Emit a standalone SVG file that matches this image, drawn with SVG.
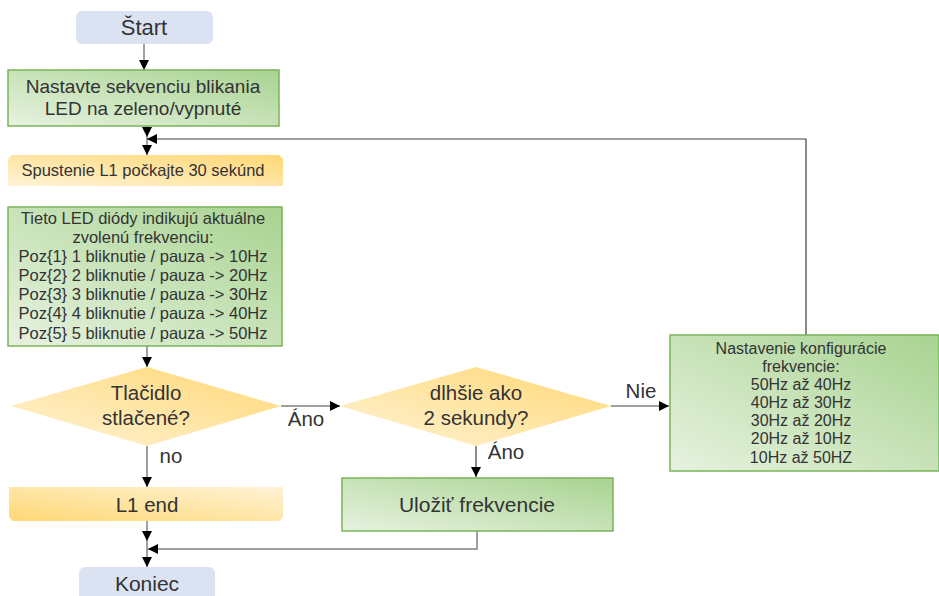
<svg xmlns="http://www.w3.org/2000/svg" width="939" height="596" viewBox="0 0 939 596">
<defs>
<linearGradient id="gGreen" x1="0" y1="1" x2="1" y2="0">
<stop offset="0" stop-color="#e7f2e0"/>
<stop offset="1" stop-color="#a8d390"/>
</linearGradient>
<linearGradient id="gOrangeTR" x1="0" y1="1" x2="1" y2="0">
<stop offset="0" stop-color="#fff3d6"/>
<stop offset="1" stop-color="#ffd875"/>
</linearGradient>
<linearGradient id="gOrangeBL" x1="0" y1="1" x2="1" y2="0">
<stop offset="0" stop-color="#ffd875"/>
<stop offset="1" stop-color="#fff3d6"/>
</linearGradient>
<marker id="arr" markerUnits="userSpaceOnUse" markerWidth="10" markerHeight="10" viewBox="0 0 10 10" refX="10" refY="5" orient="auto">
<path d="M0,0 L10,5 L0,10 z" fill="#000"/>
</marker>
</defs>
<style>
text{font-family:"Liberation Sans","DejaVu Sans",sans-serif;fill:#333;text-anchor:middle}
.term{fill:#dbe3f3}
.box{fill:url(#gGreen);stroke:#79b45a;stroke-width:1.5}
.line{fill:none;stroke:#808080;stroke-width:1.5}
.dark{fill:none;stroke:#404040;stroke-width:1.2}
.t22{font-size:22px}
.t21{font-size:21px}
.t20{font-size:20.5px}
.lbl{font-size:20.5px}
.t19{font-size:19px}
.t16{font-size:16.5px}
.t14{font-size:16px}
</style>
<g id="connectors">
<line class="line" x1="144" y1="43" x2="144" y2="70" marker-end="url(#arr)"/>
<line class="line" x1="147" y1="126" x2="147" y2="137" marker-end="url(#arr)"/>
<line class="line" x1="147" y1="137" x2="147" y2="155" marker-end="url(#arr)"/>
<polyline class="dark" points="806,335 806,139 147,139" marker-end="url(#arr)"/>
<line class="line" x1="147" y1="346" x2="147" y2="367" marker-end="url(#arr)"/>
<line class="dark" x1="281" y1="406" x2="340" y2="406" marker-end="url(#arr)"/>
<line class="dark" x1="611" y1="406" x2="669" y2="406" marker-end="url(#arr)"/>
<line class="line" x1="147" y1="446" x2="147" y2="487" marker-end="url(#arr)"/>
<line class="dark" x1="476" y1="446" x2="476" y2="477" marker-end="url(#arr)"/>
<line class="line" x1="147" y1="521" x2="147" y2="541" marker-end="url(#arr)"/>
<line class="line" x1="147" y1="541" x2="147" y2="567" marker-end="url(#arr)"/>
<polyline class="line" points="477,531 477,549 148,549" marker-end="url(#arr)"/>
<text class="lbl" x="306" y="426">Áno</text>
<text class="lbl" x="641" y="398">Nie</text>
<text class="lbl" x="171" y="463">no</text>
<text class="lbl" x="506" y="459">Áno</text>
</g>
<g id="start">
<rect class="term" x="76" y="11" width="137" height="33" rx="6"/>
<text class="t22" x="144" y="35">Štart</text>
</g>
<g id="set-sequence">
<rect class="box" x="8" y="70" width="271" height="56"/>
<text class="t19" x="143" y="93">Nastavte sekvenciu blikania</text>
<text class="t19" x="143" y="115">LED na zeleno/vypnuté</text>
</g>
<g id="spustenie">
<path d="M12,155 L279,155 L283,159 L283,186 L8,186 L8,159 z" fill="url(#gOrangeTR)"/>
<text class="t16" x="143" y="176">Spustenie L1 počkajte 30 sekúnd</text>
</g>
<g id="led-info">
<rect class="box" x="8" y="207" width="274" height="139"/>
<text class="t16" x="143" y="224">Tieto LED diódy indikujú aktuálne</text>
<text class="t16" x="143" y="243">zvolenú frekvenciu:</text>
<text class="t16" x="143" y="262">Poz{1} 1 bliknutie / pauza -&gt; 10Hz</text>
<text class="t16" x="143" y="281">Poz{2} 2 bliknutie / pauza -&gt; 20Hz</text>
<text class="t16" x="143" y="300">Poz{3} 3 bliknutie / pauza -&gt; 30Hz</text>
<text class="t16" x="143" y="319">Poz{4} 4 bliknutie / pauza -&gt; 40Hz</text>
<text class="t16" x="143" y="339">Poz{5} 5 bliknutie / pauza -&gt; 50Hz</text>
</g>
<g id="decision-pressed">
<polygon points="147,367 281,406 147,446 11,406" fill="url(#gOrangeTR)"/>
<text class="t20" x="146" y="400">Tlačidlo</text>
<text class="t20" x="146" y="425">stlačené?</text>
</g>
<g id="decision-long">
<polygon points="476,367 611,406 476,446 340,406" fill="url(#gOrangeTR)"/>
<text class="t20" x="476" y="400">dlhšie ako</text>
<text class="t20" x="476" y="425">2 sekundy?</text>
</g>
<g id="config">
<rect class="box" x="670" y="335" width="269" height="136"/>
<text class="t14" x="801" y="354">Nastavenie konfigurácie</text>
<text class="t14" x="801" y="372">frekvencie:</text>
<text class="t14" x="801" y="390">50Hz až 40Hz</text>
<text class="t14" x="801" y="408">40Hz až 30Hz</text>
<text class="t14" x="801" y="426">30Hz až 20Hz</text>
<text class="t14" x="801" y="444">20Hz až 10Hz</text>
<text class="t14" x="801" y="463">10Hz až 50HZ</text>
</g>
<g id="l1-end">
<path d="M9,487 L283,487 L283,517 L279,521 L13,521 L9,517 z" fill="url(#gOrangeBL)"/>
<text class="t20" x="147" y="512">L1 end</text>
</g>
<g id="save">
<rect class="box" x="342" y="478" width="271" height="53"/>
<text class="t21" x="477" y="512">Uložiť frekvencie</text>
</g>
<g id="end">
<rect class="term" x="79" y="567" width="136" height="40" rx="6"/>
<text class="t21" x="147" y="591">Koniec</text>
</g>
</svg>
